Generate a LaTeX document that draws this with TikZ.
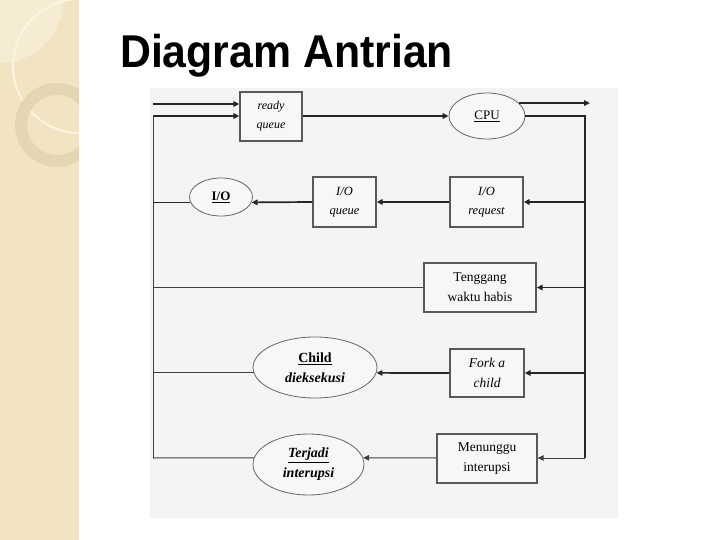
\documentclass[tikz,border=0pt]{standalone}
\usepackage{fontspec}
\setmainfont{Liberation Serif}
\newfontfamily\titlefont[FakeStretch=0.93]{Liberation Sans}
\usetikzlibrary{arrows.meta,shapes.geometric}
\definecolor{stripe}{HTML}{F2E3C2}
\definecolor{stripelight}{HTML}{F6EBD3}
\definecolor{cream}{HTML}{FBF4DE}
\definecolor{ringc}{HTML}{E4D5B3}
\definecolor{diagbg}{HTML}{F4F4F4}
\definecolor{boxfill}{HTML}{F7F7F7}
\tikzset{
  thickline/.style={line width=1.7pt, draw=black!85},
  thinline/.style={line width=1pt, draw=black!75},
  arr/.style={-{Triangle[length=6pt,width=5.5pt]}},
  qbox/.style={draw=black!65, line width=1.3pt, fill=boxfill, inner sep=2pt, align=center},
  qell/.style={ellipse, draw=black!60, line width=0.8pt, fill=boxfill, inner sep=0pt, align=center},
}
\begin{document}
\begin{tikzpicture}[x=1pt,y=-1pt]
\useasboundingbox (0,0) rectangle (720,540);
% left stripe
\fill[stripe] (0,0) rectangle (79,540);
\begin{scope}
\clip (0,0) rectangle (79,540);
\fill[stripelight] (0,0) -- (0,63) arc[start angle=90,end angle=0,radius=63] -- cycle;
\draw[cream, line width=2pt] (80,66) circle[radius=67];
\draw[ringc, line width=12pt] (57,125) circle[radius=36];
\end{scope}
% title
\node[anchor=base west, inner sep=0pt, font=\titlefont\bfseries\fontsize{46}{50}\selectfont] (title) at (120,68) {Diagram Antrian};
% diagram background
\fill[diagbg] (150,88) rectangle (618,518);
% nodes
\node[qbox, minimum width=62pt, minimum height=49pt, font=\itshape\fontsize{12}{19}\selectfont] (ready) at (271,116.5) {ready\\queue};
\node[qell, minimum width=76pt, minimum height=46pt, font=\fontsize{13}{16}\selectfont] (cpu) at (487,116) {\underline{CPU}};
\node[qbox, minimum width=73pt, minimum height=50pt, font=\itshape\fontsize{12.5}{19}\selectfont] (ioreq) at (486.5,202) {I/O\\request};
\node[qbox, minimum width=63pt, minimum height=50pt, font=\itshape\fontsize{12.5}{19}\selectfont] (ioq) at (344.5,202) {I/O\\queue};
\node[qell, minimum width=63pt, minimum height=38pt, font=\bfseries\fontsize{13}{16}\selectfont] (io) at (221,197) {\underline{I/O}};
\node[qbox, minimum width=112pt, minimum height=49pt, font=\fontsize{13.5}{20}\selectfont] (tenggang) at (480,287.5) {Tenggang\\waktu habis};
\node[qbox, minimum width=74pt, minimum height=48pt, font=\itshape\fontsize{13.5}{20}\selectfont] (fork) at (487,373) {Fork a\\child};
\node[qell, minimum width=124pt, minimum height=61pt, font=\bfseries\fontsize{14}{20}\selectfont] (child) at (315,367.5) {\underline{Child}\\\textit{dieksekusi}};
\node[qbox, minimum width=100pt, minimum height=49pt, font=\fontsize{13.5}{20}\selectfont] (menunggu) at (487,458.5) {Menunggu\\interupsi};
\node[qell, minimum width=111pt, minimum height=61pt, font=\bfseries\itshape\fontsize{14}{20}\selectfont] (terjadi) at (308.5,464.5) {\underline{Terjadi}\\interupsi};
% coordinates
\coordinate (inA) at (153,104);
\coordinate (L1) at (153,116);
\coordinate (L5) at (153,458);
\coordinate (R1) at (585,116);
\coordinate (R5) at (585,458);
\coordinate (out) at (590,104);
% connectors
\draw[thickline, arr] (inA) -- (inA -| ready.west);
\draw[thickline, arr] (L1) -- (L1 -| ready.west);
\draw[thickline, arr] (ready.east |- cpu.west) -- (cpu.west);
\draw[thickline, arr] (cpu.22) -- (cpu.22 -| out);
\draw[thickline] (cpu.east) -- (R1) -- (R5);
\draw[thinline] (L1) -- (L5);
% row 2
\draw[thickline, arr] (ioreq.east -| R1) -- (ioreq.east);
\draw[thickline, arr] (ioreq.west) -- (ioq.east);
\draw[thickline, arr] (ioq.west) -- (io.-10);
\draw[thickline] (io.190) -- (io.190 -| L1);
% row 3
\draw[thickline, arr] (tenggang.east -| R1) -- (tenggang.east);
\draw[thinline] (tenggang.west) -- (tenggang.west -| L1);
% row 4
\draw[thickline, arr] (fork.east -| R1) -- (fork.east);
\draw[thickline, arr] (fork.west) -- (child.-5);
\draw[thinline] (child.185) -- (child.185 -| L1);
% row 5
\draw[thinline, arr] (R5) -- (R5 -| menunggu.east);
\draw[thinline, arr] (R5 -| menunggu.west) -- (terjadi.7);
\draw[thinline] (terjadi.173) -- (L5);
\end{tikzpicture}
\end{document}
